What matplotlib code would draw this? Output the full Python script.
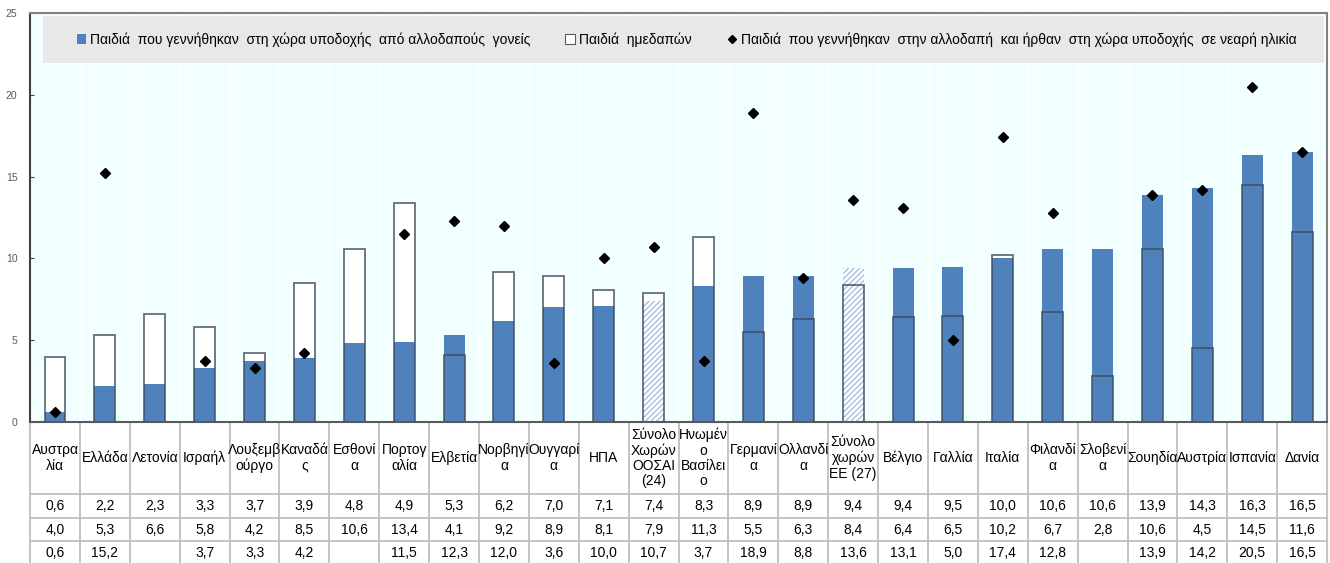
import numpy as np
import matplotlib.pyplot as plt
from matplotlib.patches import Patch, Rectangle
from matplotlib.lines import Line2D
from matplotlib.transforms import blended_transform_factory

plt.rcParams['font.family'] = ['Liberation Sans', 'DejaVu Sans']

countries = ["Αυστρα\nλία", "Ελλάδα", "Λετονία", "Ισραήλ", "Λουξεμβ\nούργο", "Καναδά\nς",
             "Εσθονί\nα", "Πορτογ\nαλία", "Ελβετία", "Νορβηγί\nα", "Ουγγαρί\nα", "ΗΠΑ",
             "Σύνολο\nΧωρών\nΟΟΣΑΙ\n(24)", "Ηνωμέν\nο\nΒασίλει\nο", "Γερμανί\nα", "Ολλανδί\nα",
             "Σύνολο\nχωρών\nΕΕ (27)", "Βέλγιο", "Γαλλία", "Ιταλία", "Φιλανδί\nα", "Σλοβενί\nα",
             "Σουηδία", "Αυστρία", "Ισπανία", "Δανία"]

# children born in host country to foreign-born parents
born_host = [0.6, 2.2, 2.3, 3.3, 3.7, 3.9, 4.8, 4.9, 5.3, 6.2, 7.0, 7.1, 7.4, 8.3, 8.9, 8.9,
             9.4, 9.4, 9.5, 10.0, 10.6, 10.6, 13.9, 14.3, 16.3, 16.5]
# children of native-born parents
native = [4.0, 5.3, 6.6, 5.8, 4.2, 8.5, 10.6, 13.4, 4.1, 9.2, 8.9, 8.1, 7.9, 11.3, 5.5, 6.3,
          8.4, 6.4, 6.5, 10.2, 6.7, 2.8, 10.6, 4.5, 14.5, 11.6]
# children born abroad who arrived young
born_abroad = [0.6, 15.2, None, 3.7, 3.3, 4.2, None, 11.5, 12.3, 12.0, 3.6, 10.0, 10.7, 3.7,
               18.9, 8.8, 13.6, 13.1, 5.0, 17.4, 12.8, None, 13.9, 14.2, 20.5, 16.5]

aggregates = [12, 16]

legend_labels = ["Παιδιά  που γεννήθηκαν  στη χώρα υποδοχής  από αλλοδαπούς  γονείς",
                 "Παιδιά  ημεδαπών",
                 "Παιδιά  που γεννήθηκαν  στην αλλοδαπή  και ήρθαν  στη χώρα υποδοχής  σε νεαρή ηλικία"]

blue = '#4F81BD'
n = len(countries)
x = np.arange(n)
w = 0.42

fig = plt.figure(figsize=(13.3, 5.63), dpi=100)
ax = fig.add_axes([0.0226, 0.2504, 0.9752, 0.7265])
ax.set_facecolor('#F2FFFF')

# white bars behind
ax.bar(x, native, width=w, color='white', edgecolor='none', zorder=2)

# blue bars (hatched for the aggregates)
for i in range(n):
    if i in aggregates:
        ax.bar(x[i], born_host[i], width=w, color='white', edgecolor='#A8BDE2',
               hatch='//////', linewidth=0, zorder=3)
    else:
        ax.bar(x[i], born_host[i], width=w, color=blue, edgecolor='none', zorder=3)

# outline of the native bars on top
ax.bar(x, native, width=w, fill=False, edgecolor='#3F4A5A', linewidth=1.3, alpha=0.8, zorder=4)

# diamonds
xs = [x[i] for i in range(n) if born_abroad[i] is not None]
ys = [v for v in born_abroad if v is not None]
ax.plot(xs, ys, 'D', color='black', markersize=5.5, linestyle='none', zorder=5)

ax.set_xlim(-0.5, n - 0.5)
ax.set_ylim(0, 25)
ax.set_yticks([0, 5, 10, 15, 20, 25])
ax.tick_params(axis='y', labelsize=7.5, labelcolor='#595959', direction='in', length=3, pad=9,
               color='#404040')
ax.set_xticks([])
for xv in np.arange(0.5, n - 0.5, 1):
    ax.axvline(xv, color='white', lw=1, zorder=1)
for s in ['top', 'right']:
    ax.spines[s].set_color('#808080')
    ax.spines[s].set_linewidth(1.5)
ax.spines['left'].set_color('#404040')
ax.spines['left'].set_linewidth(1.5)
ax.spines['bottom'].set_color('#595959')
ax.spines['bottom'].set_linewidth(1.5)
ax.spines['bottom'].set_zorder(6)

# legend band
ax.add_patch(Rectangle((0.01, 0.878), 0.988, 0.115, transform=ax.transAxes,
                       facecolor='#E8E8E8', edgecolor='none', zorder=6))
handles = [Patch(facecolor=blue, edgecolor='none'),
           Patch(facecolor='white', edgecolor='#595959', linewidth=0.8),
           Line2D([], [], marker='D', color='black', linestyle='none', markersize=4)]
leg = ax.legend(handles, legend_labels, loc='center', bbox_to_anchor=(0.506, 0.935), ncol=3,
                frameon=False, fontsize=10, handlelength=0.7, handleheight=0.7,
                handletextpad=0.3, columnspacing=2.5)
leg.set_zorder(7)

# data table below the plot
tr = blended_transform_factory(ax.transData, ax.transAxes)
grid_c = '#BFBFBF'
for xv in np.arange(-0.5, n + 0.5, 1):
    ax.plot([xv, xv], [0, -0.36], color=grid_c, lw=1.3, transform=tr, clip_on=False)
for yv in [-0.176, -0.2347, -0.291]:
    ax.plot([-0.5, n - 0.5], [yv, yv], color=grid_c, lw=1.3, transform=tr, clip_on=False)


def fmt(v):
    if v is None:
        return ""
    return f"{v:.1f}".replace('.', ',')


for i in range(n):
    ax.text(x[i], -0.088, countries[i], transform=tr, ha='center', va='center', fontsize=10,
            linespacing=1.12)
    ax.text(x[i], -0.205, fmt(born_host[i]), transform=tr, ha='center', va='center', fontsize=10)
    ax.text(x[i], -0.263, fmt(native[i]), transform=tr, ha='center', va='center', fontsize=10)
    ax.text(x[i], -0.319, fmt(born_abroad[i]), transform=tr, ha='center', va='center', fontsize=10)

fig.savefig('out.png', dpi=100)
